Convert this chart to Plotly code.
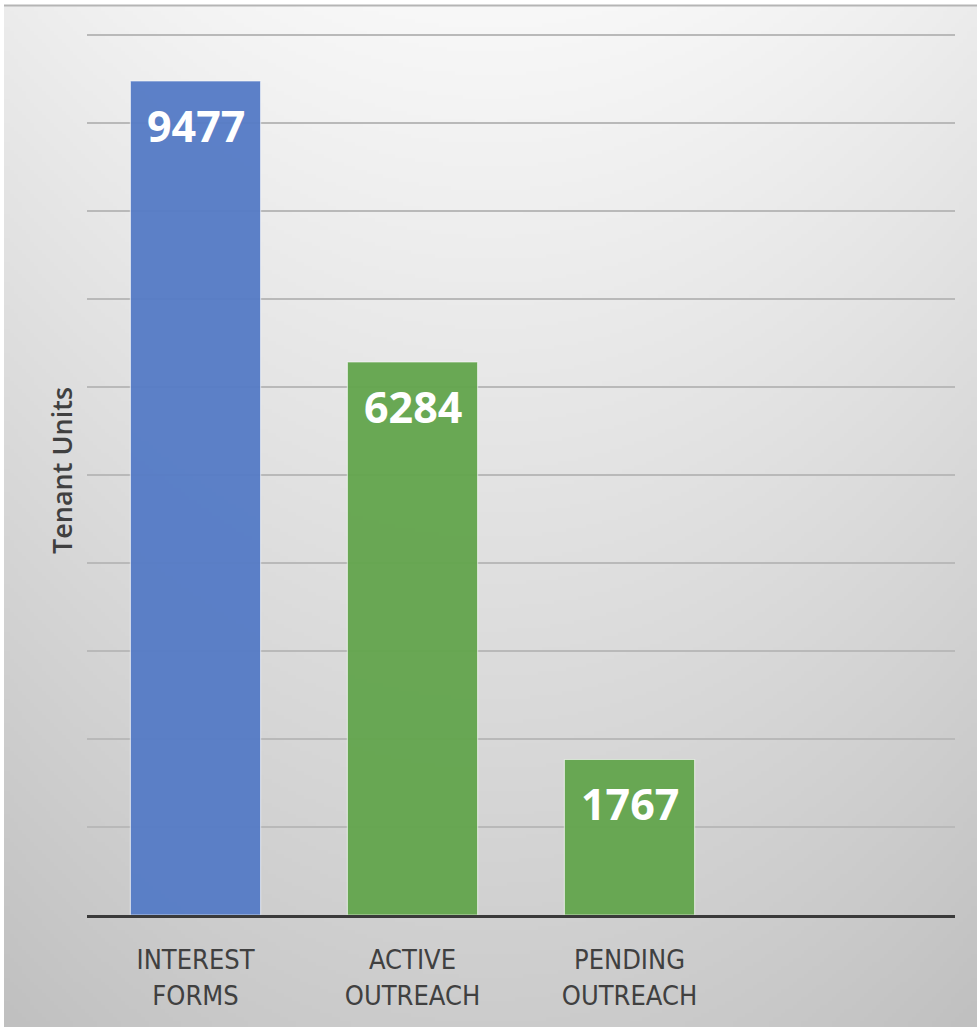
import base64, struct, zlib
import numpy as np
import plotly.graph_objects as go

# ---- data ----
categories = ["INTEREST<br>FORMS", "ACTIVE<br>OUTREACH", "PENDING<br>OUTREACH"]
values = [9477, 6284, 1767]
bar_colors = ["#557BC6", "#63A54D", "#63A54D"]
y_title = "Tenant Units"

W, H = 977, 1027
L, R, T, B = 87, 22, 26, 112
YMAX = 10000 * (915 - 26) / (915 - 35)

# ---- background gradient image (radial-ish grey) ----
gw, gh = 245, 257
xs = np.linspace(-1, 1, gw)
ys = np.linspace(0, 1, gh)
X, Y = np.meshgrid(xs, ys)
c = 248 - 44 * Y - 12 * X ** 2
c = np.clip(c, 0, 255).astype(np.uint8)
img = np.stack([c, c, c], axis=-1)
raw = b"".join(b"\x00" + img[i].tobytes() for i in range(gh))

def chunk(tag, data):
    return struct.pack(">I", len(data)) + tag + data + struct.pack(">I", zlib.crc32(tag + data) & 0xffffffff)

png = b"\x89PNG\r\n\x1a\n" + chunk(b"IHDR", struct.pack(">IIBBBBB", gw, gh, 8, 2, 0, 0, 0)) \
      + chunk(b"IDAT", zlib.compress(raw, 9)) + chunk(b"IEND", b"")
src = "data:image/png;base64," + base64.b64encode(png).decode()

pw, ph = W - L - R, H - T - B
def px2paper_x(px):
    return (px - L) / pw
def px2paper_y(py):
    return (H - B - py) / ph

fig = go.Figure()
fig.add_trace(go.Bar(
    x=categories, y=values,
    marker=dict(color=bar_colors, opacity=0.95,
                line=dict(color="rgba(255,255,255,0.6)", width=1.2)),
    width=0.6, hoverinfo="skip",
))

for cat, v in zip(categories, values):
    fig.add_annotation(x=cat, y=v, yshift=-44, text=f"<b>{v}</b>", showarrow=False,
                       xref="x", yref="y", yanchor="middle",
                       font=dict(family="Open Sans", size=43, color="white"))

fig.add_layout_image(dict(
    source=src, xref="paper", yref="paper",
    x=px2paper_x(4), y=px2paper_y(5),
    sizex=(W - 4) / pw, sizey=(H - 5) / ph,
    xanchor="left", yanchor="top", sizing="stretch", layer="below",
))

fig.add_shape(type="line", xref="paper", yref="paper",
              x0=px2paper_x(4), x1=px2paper_x(W), y0=px2paper_y(5.5), y1=px2paper_y(5.5),
              line=dict(color="#b5b5b5", width=2))

fig.update_layout(
    width=W, height=H,
    margin=dict(l=L, r=R, t=T, b=B, pad=0),
    paper_bgcolor="white", plot_bgcolor="rgba(0,0,0,0)",
    showlegend=False,
    xaxis=dict(
        type="category", categoryorder="array", categoryarray=categories,
        range=[-0.5, 3.5], showgrid=False, zeroline=False,
        showline=True, linecolor="#3a3a3a", linewidth=3,
        ticks="outside", ticklen=19, tickcolor="rgba(0,0,0,0)",
        tickfont=dict(family="Liberation Sans Narrow, DejaVu Sans Condensed, sans-serif",
                      size=27, color="#404040"),
        fixedrange=True,
    ),
    yaxis=dict(
        range=[0, YMAX], dtick=1000, showgrid=True,
        gridcolor="#b9b9b9", gridwidth=2, zeroline=False,
        showticklabels=False, ticks="",
        title=dict(text=y_title, standoff=5,
                   font=dict(family="Open Sans", size=27, color="#404040", weight=600)),
        fixedrange=True,
    ),
)

fig.write_html("out.html", config={"displayModeBar": False},
               post_script="document.body.style.margin='0px';")
